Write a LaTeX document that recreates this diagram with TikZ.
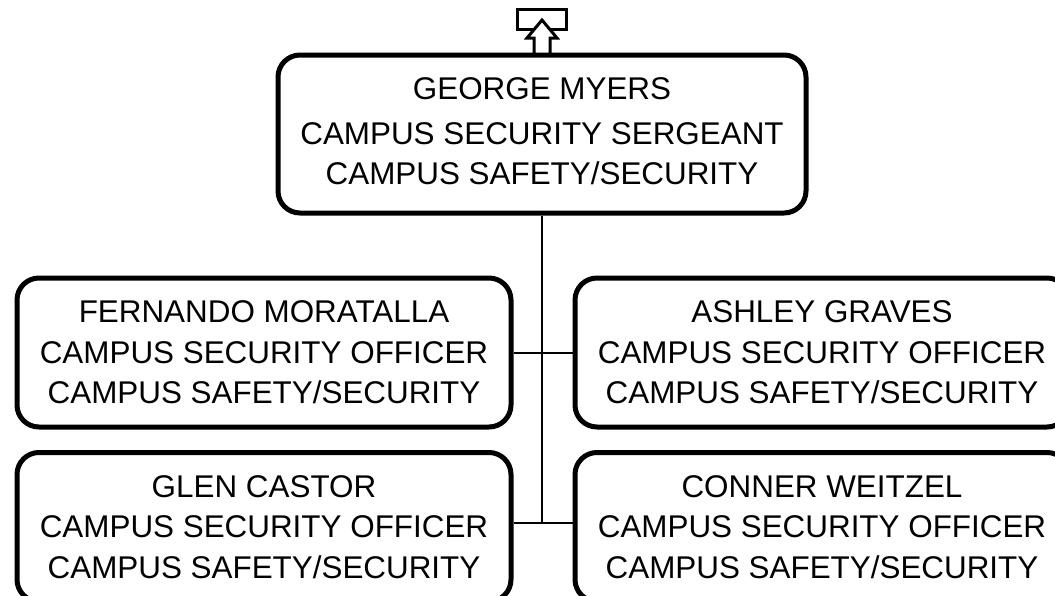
\documentclass[tikz,border=0pt]{standalone}
\usepackage{fontspec}
\setmainfont{Liberation Sans}
\begin{document}
\begin{tikzpicture}[x=1pt,y=-1pt,
  card/.style={draw=black,line width=5pt,rounded corners=22pt,fill=white,align=center,inner sep=0pt,
    font=\fontsize{31.4pt}{40.5pt}\selectfont},
  wire/.style={draw=black,line width=2pt},
  upmark/.style={draw=black,line width=3pt,fill=white,line join=miter}]
\useasboundingbox (0,0) rectangle (1055,595);
\clip (0,0) rectangle (1055,595);
\node[card,minimum width=528pt,minimum height=158pt] (top) at (542,134)
  {\raisebox{4pt}{\setlength{\tabcolsep}{0pt}\begin{tabular}{c}GEORGE MYERS\\[4pt]CAMPUS SECURITY SERGEANT\\CAMPUS SAFETY/SECURITY\end{tabular}}};
\node[card,minimum width=494pt,minimum height=149pt] (b1) at (264,352.5)
  {FERNANDO MORATALLA\\CAMPUS SECURITY OFFICER\\CAMPUS SAFETY/SECURITY};
\node[card,minimum width=494pt,minimum height=149pt] (b2) at (822,352.5)
  {ASHLEY GRAVES\\CAMPUS SECURITY OFFICER\\CAMPUS SAFETY/SECURITY};
\node[card,minimum width=494pt,minimum height=149pt] (b3) at (264,527)
  {GLEN CASTOR\\CAMPUS SECURITY OFFICER\\CAMPUS SAFETY/SECURITY};
\node[card,minimum width=494pt,minimum height=149pt] (b4) at (822,527)
  {CONNER WEITZEL\\CAMPUS SECURITY OFFICER\\CAMPUS SAFETY/SECURITY};
\coordinate (jb) at ([yshift=4pt]b3.east -| top.south);
\draw[wire] (top.south) -- (jb);
\draw[wire] (b1.east) -- (b2.west);
\draw[wire] ([yshift=4pt]b3.east) -- ([yshift=4pt]b4.west);
\draw[line width=3pt] (517,9) rectangle (566,29);
\draw[upmark] (534,54) -- (534,38) -- (527,38) -- (542,20) -- (557,38) -- (550,38) -- (550,54) -- cycle;
\end{tikzpicture}
\end{document}
